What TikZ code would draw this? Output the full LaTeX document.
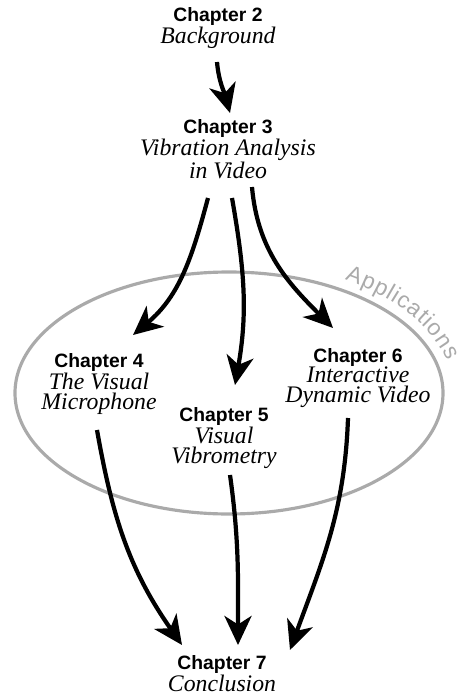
\documentclass[tikz,border=0pt]{standalone}
\usepackage{fontspec}
\setmainfont{Liberation Serif}
\setsansfont{Liberation Sans}
\usepackage{tikz}
\usepackage{xcolor}
\definecolor{thesisgray}{RGB}{170,170,170}
\usetikzlibrary{arrows.meta,decorations.text}

% bold sans heading above the italic chapter title
\newcommand{\chaphead}[1]{{\normalfont\sffamily\bfseries\fontsize{11}{11.5}\selectfont #1}}

\begin{document}
\begin{tikzpicture}[
    chapter/.style={align=center, inner sep=0pt, font=\fontsize{13.5}{11.5}\selectfont\itshape},
    flow/.style={line width=2.4pt, -{Stealth[length=0.58cm,width=0.54cm,inset=0.17cm]}}
]
    \useasboundingbox (0,0) rectangle (9.32,-14);

    % Applications region
    \draw[thesisgray, line width=1.8pt] (4.58,-7.86) ellipse (4.28 and 2.42);
    \path[decorate, decoration={text along path, text align=fit to path, text color=thesisgray,
        text={|\sffamily\fontsize{13}{13}\selectfont|Applications}}]
        (4.58,-7.86) ++(59:4.5 and 2.64) arc[start angle=59, end angle=14, x radius=4.5, y radius=2.64];

    % Chapters
    \node[chapter] (ch2) at (4.36,-0.56) {\chaphead{Chapter 2}\\Background};
    \node[chapter] (ch3) at (4.56,-2.98) {\chaphead{Chapter 3}\\Vibration Analysis\\in Video};
    \node[chapter] (ch4) at (1.98,-7.68) {\chaphead{Chapter 4}\\The Visual\\Microphone};
    \node[chapter] (ch5) at (4.48,-8.76) {\chaphead{Chapter 5}\\Visual\\Vibrometry};
    \node[chapter] (ch6) at (7.16,-7.56) {\chaphead{Chapter 6}\\Interactive\\Dynamic Video};
    \node[chapter] (ch7) at (4.44,-13.48) {\chaphead{Chapter 7}\\Conclusion};

    % Background feeds the analysis
    \draw[flow] ([xshift=-0.02cm,yshift=-0.68cm]ch2.center) to[out=-85,in=105] ([xshift=0.04cm,yshift=0.72cm]ch3.center);

    % Analysis into the applications
    \draw[flow] ([xshift=-0.4cm,yshift=-0.98cm]ch3.center) to[out=-105,in=40] ([xshift=0.68cm,yshift=0.98cm]ch4.center);
    \draw[flow] ([xshift=0.08cm,yshift=-0.98cm]ch3.center) to[out=-80,in=80] ([xshift=0.22cm,yshift=1.06cm]ch5.center);
    \draw[flow] ([xshift=0.48cm,yshift=-0.76cm]ch3.center) to[out=-85,in=135] ([xshift=-0.5cm,yshift=1.0cm]ch6.center);

    % Applications into the conclusion
    \draw[flow] ([xshift=-0.04cm,yshift=-0.92cm]ch4.center) to[out=-80,in=125] ([xshift=-0.8cm,yshift=0.58cm]ch7.center);
    \draw[flow] ([xshift=0.12cm,yshift=-0.74cm]ch5.center) to[out=-82,in=90] ([xshift=0.32cm,yshift=0.58cm]ch7.center);
    \draw[flow] ([xshift=-0.2cm,yshift=-0.8cm]ch6.center) to[out=-92,in=70] ([xshift=1.36cm,yshift=0.48cm]ch7.center);
\end{tikzpicture}
\end{document}
